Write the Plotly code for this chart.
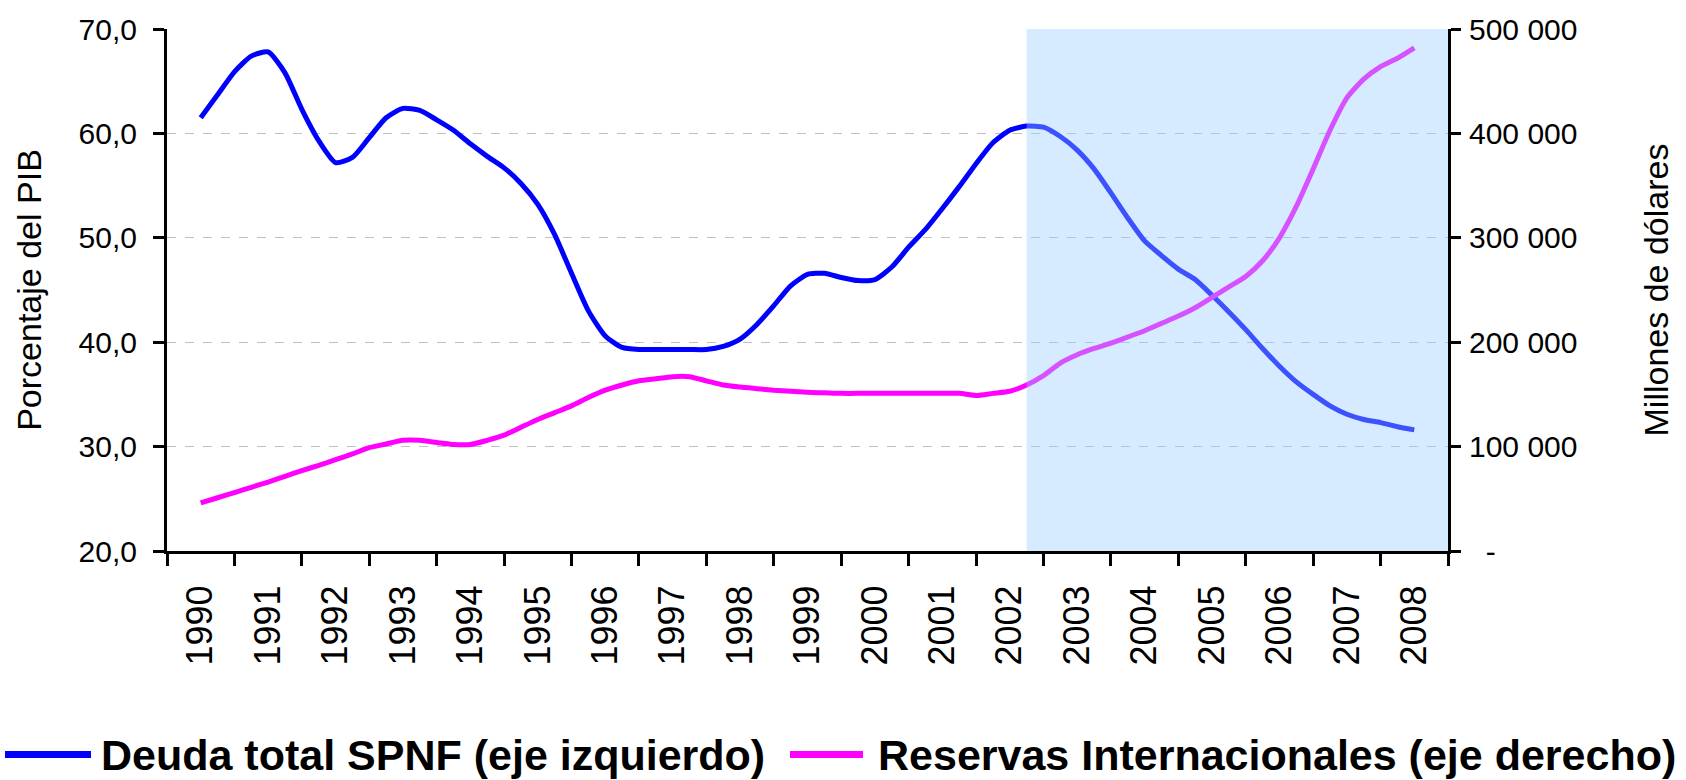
import plotly.graph_objects as go

# Quarterly observations, 1990 (mid-year) to 2008 (mid-year)
anios = list(range(1990, 2009))
deuda_spnf = [
    61.5, 63.7, 65.9, 67.4, 67.8, 65.8, 62.3, 59.3, 57.2, 57.7,
    59.6, 61.5, 62.4, 62.2, 61.3, 60.3, 59.0, 57.8, 56.7, 55.2,
    53.2, 50.3, 46.6, 43.0, 40.6, 39.5, 39.3, 39.3, 39.3, 39.3,
    39.3, 39.6, 40.3, 41.7, 43.5, 45.4, 46.5, 46.6, 46.2, 45.9,
    46.0, 47.2, 49.1, 50.8, 52.8, 54.9, 57.1, 59.1, 60.3, 60.7,
    60.6, 59.7, 58.4, 56.6, 54.3, 51.9, 49.7, 48.3, 47.0, 46.0,
    44.5, 42.9, 41.2, 39.4, 37.7, 36.2, 35.0, 33.9, 33.1, 32.6,
    32.3, 31.9, 31.6,
]
reservas = [
    46000, 51000, 56000, 61000, 66000, 71500, 77000, 82000, 87500, 93000,
    99000, 102500, 106000, 106000, 104000, 102000, 102000, 106000, 111000, 118500,
    126000, 132500, 139000, 147000, 154000, 159000, 163000, 165000, 167000, 167000,
    163000, 159000, 157000, 155500, 154000, 153000, 152000, 151500, 151000, 151000,
    151000, 151000, 151000, 151000, 151000, 151000, 149000, 151000, 153000, 159000,
    168000, 180000, 188000, 194000, 199000, 205000, 211000, 218000, 225000, 233000,
    243000, 253000, 263000, 278000, 300000, 330000, 366000, 403000, 434000, 452000,
    464000, 472000, 482000,
]
periodo = [1990.5 + 0.25 * i for i in range(len(deuda_spnf))]

ticks_izq = [20, 30, 40, 50, 60, 70]
ticks_der = [0, 100000, 200000, 300000, 400000, 500000]
inicio_sombra = 2002.75

FONT = "Liberation Sans, Arial, sans-serif"

fig = go.Figure()
fig.add_trace(go.Scatter(
    x=periodo, y=deuda_spnf, mode="lines", name="Deuda total SPNF (eje izquierdo)",
    line=dict(color="#0000ff", width=5, shape="spline", smoothing=0.6),
    showlegend=False,
))
fig.add_trace(go.Scatter(
    x=periodo, y=reservas, mode="lines", name="Reservas Internacionales (eje derecho)",
    line=dict(color="#ff00ff", width=5, shape="spline", smoothing=0.6),
    yaxis="y2", showlegend=False,
))

# shaded period
fig.add_shape(type="rect", xref="x", yref="paper", x0=inicio_sombra, x1=anios[-1] + 1,
              y0=0, y1=1, fillcolor="rgba(153,204,255,0.4)", line_width=0, layer="above")

# hand-made legend below the chart
leyenda = [
    ("Deuda total SPNF (eje izquierdo)", "#0000ff", 5, 91, 99),
    ("Reservas Internacionales (eje derecho)", "#ff00ff", 790, 863, 876),
]
W0, W = 167, 1281
Y_LEY = -0.39
for texto, color, a, b, t in leyenda:
    fig.add_shape(type="line", xref="paper", yref="paper",
                  x0=(a - W0) / W, x1=(b - W0) / W, y0=Y_LEY, y1=Y_LEY,
                  line=dict(color=color, width=7))
    fig.add_annotation(xref="paper", yref="paper", x=(t - W0) / W, y=Y_LEY,
                       xanchor="left", yanchor="middle", showarrow=False, text=texto,
                       font=dict(family=FONT, size=43, color="black", weight="bold"))

fig.update_layout(
    width=1686, height=780,
    margin=dict(l=167, r=238, t=29, b=229),
    plot_bgcolor="white", paper_bgcolor="white",
    font=dict(family=FONT, color="black"),
    xaxis=dict(
        range=[anios[0], anios[-1] + 1],
        tickvals=[a + 0.5 for a in anios], ticktext=[str(a) for a in anios],
        ticks="", tickangle=-90, tickfont=dict(size=36), ticklabelstandoff=17,
        showline=True, linecolor="black", linewidth=3, showgrid=False, zeroline=False,
        minor=dict(tickvals=anios + [anios[-1] + 1], ticks="outside", ticklen=12,
                   tickwidth=3, tickcolor="black", showgrid=False),
    ),
    yaxis=dict(
        range=[20, 70], tickvals=ticks_izq,
        ticktext=[f"{v:.1f}".replace(".", ",") for v in ticks_izq],
        ticks="outside", ticklen=11, tickwidth=3, tickcolor="black",
        tickfont=dict(size=30), ticklabelstandoff=10,
        showline=True, linecolor="black", linewidth=3, zeroline=False,
        showgrid=True, gridcolor="#c0c0c0", gridwidth=1, griddash="dash",
        title=dict(text="Porcentaje del PIB", font=dict(size=34), standoff=27),
    ),
    yaxis2=dict(
        range=[0, 500000], overlaying="y", side="right", tickvals=ticks_der,
        ticktext=["\u00a0\u00a0-" if v == 0 else f"{v:,}".replace(",", " ") for v in ticks_der],
        ticks="outside", ticklen=10, tickwidth=3, tickcolor="black",
        tickfont=dict(size=30), ticklabelstandoff=2,
        showline=True, linecolor="black", linewidth=3, zeroline=False, showgrid=False,
        title=dict(text="Millones de dólares", font=dict(size=34), standoff=68),
    ),
)

# drop the browser's default body margin so the figure fills the window exactly
fig.write_html("out.html", config={"displayModeBar": False},
               post_script="document.body.style.margin='0';")
